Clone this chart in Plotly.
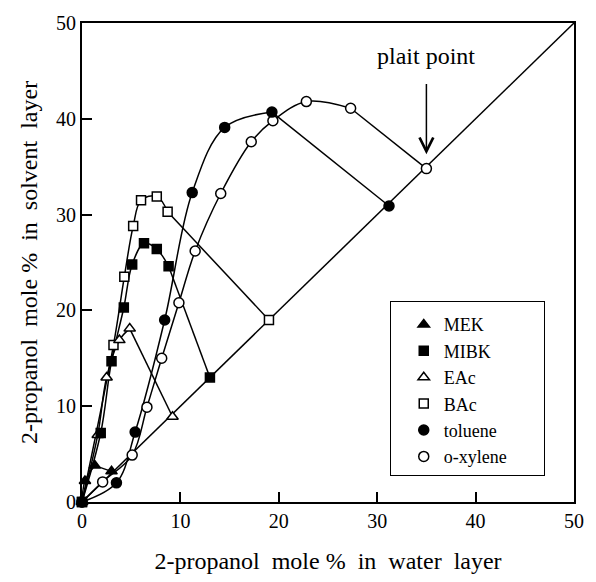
import plotly.graph_objects as go

# ---- data (2-propanol mole % : water layer x, solvent layer y) ----
mek_x = [0, 0.3, 1.3, 3.0]
mek_y = [0, 2.2, 3.8, 3.2]

mibk_x = [0, 1.9, 3.0, 4.25, 5.1, 6.3, 7.6, 8.8, 13.0]
mibk_y = [0, 7.2, 14.7, 20.3, 24.8, 27.0, 26.4, 24.6, 13.0]

eac_x = [0, 1.6, 2.5, 3.8, 4.85, 9.2]
eac_y = [0, 7.0, 13.0, 16.9, 18.1, 8.9]

bac_x = [0, 3.2, 4.3, 5.2, 6.0, 7.6, 8.7, 19.0]
bac_y = [0, 16.4, 23.5, 28.8, 31.5, 31.9, 30.3, 19.0]

tol_x = [0, 3.5, 5.4, 8.4, 11.2, 14.5, 19.3, 31.2]
tol_y = [0, 2.0, 7.3, 19.0, 32.3, 39.1, 40.7, 30.9]

oxy_x = [0, 2.1, 5.1, 6.6, 8.1, 9.85, 11.5, 14.1, 17.2, 19.4, 22.8, 27.3, 35.0]
oxy_y = [0, 2.1, 4.9, 9.9, 15.0, 20.8, 26.2, 32.2, 37.6, 39.8, 41.8, 41.1, 34.8]

diag = [0, 50]
ticks = [0, 10, 20, 30, 40, 50]

# (name, x, y, symbol, fill, size, legend rank)
series = [
    ("MEK", mek_x, mek_y, "triangle-up", "black", 10, 1),
    ("MIBK", mibk_x, mibk_y, "square", "black", 9, 2),
    ("EAc", eac_x, eac_y, "triangle-up", "white", 10, 3),
    ("BAc", bac_x, bac_y, "square", "white", 9, 4),
    ("toluene", tol_x, tol_y, "circle", "black", 10, 5),
    ("o-xylene", oxy_x, oxy_y, "circle", "white", 10, 6),
]
# marker drawing order (filled marks on top at the common origin)
draw_order = ["o-xylene", "BAc", "EAc", "MEK", "MIBK", "toluene"]

FONT = "Liberation Serif, Times New Roman, serif"
PAD = "\u00a0" * 7
fig = go.Figure()

# diagonal
fig.add_trace(go.Scatter(x=diag, y=diag, mode="lines",
                         line=dict(color="black", width=1.5),
                         showlegend=False, hoverinfo="skip"))

# curves (smooth) + straight tie segment to the diagonal
for name, xs, ys, sym, fill, size, rank in series:
    fig.add_trace(go.Scatter(x=xs[:-1], y=ys[:-1], mode="lines",
                             line=dict(color="black", width=1.5, shape="spline", smoothing=1.0),
                             showlegend=False, hoverinfo="skip"))
    fig.add_trace(go.Scatter(x=xs[-2:], y=ys[-2:], mode="lines",
                             line=dict(color="black", width=1.5),
                             showlegend=False, hoverinfo="skip"))

# markers
lookup = {s[0]: s for s in series}
for key in draw_order:
    name, xs, ys, sym, fill, size, rank = lookup[key]
    fig.add_trace(go.Scatter(x=xs, y=ys, mode="markers", name=name + PAD,
                             legendrank=rank, cliponaxis=False,
                             marker=dict(symbol=sym, size=size, color=fill,
                                         line=dict(color="black", width=1.5))))

axis_common = dict(range=[0, 50], tickvals=ticks, showgrid=False, zeroline=False,
                   showline=True, mirror=True, linecolor="black", linewidth=2,
                   ticks="inside", ticklen=10, tickwidth=1.5, tickcolor="black",
                   tickfont=dict(family=FONT, size=20, color="black"))

fig.update_layout(
    width=596, height=582,
    margin=dict(l=82, r=20, t=23, b=77),
    paper_bgcolor="white", plot_bgcolor="white",
    font=dict(family=FONT, color="black"),
    xaxis=dict(**axis_common,
               title=dict(text="2-propanol\u00a0\u00a0mole %\u00a0\u00a0in\u00a0\u00a0water\u00a0\u00a0layer",
                          font=dict(family=FONT, size=24, color="black"), standoff=21)),
    yaxis=dict(**axis_common,
               title=dict(text="2-propanol\u00a0\u00a0mole %\u00a0\u00a0in\u00a0\u00a0solvent\u00a0\u00a0layer",
                          font=dict(family=FONT, size=24, color="black"), standoff=12)),
    legend=dict(x=0.6255, y=0.419, xanchor="left", yanchor="top",
                bgcolor="white", bordercolor="black", borderwidth=1,
                font=dict(family=FONT, size=18, color="black"),
                title=dict(text="\u00a0", font=dict(size=3)),
                indentation=13, traceorder="normal"),
    showlegend=True,
)

# plait point label and arrow
fig.add_annotation(x=35.0, y=46.6, xref="x", yref="y", text="plait point",
                   showarrow=False, font=dict(family=FONT, size=24, color="black"))
fig.add_annotation(x=35.0, y=36.3, ax=35.0, ay=43.8, xref="x", yref="y",
                   axref="x", ayref="y", text="", showarrow=True,
                   arrowhead=5, arrowsize=1.8, arrowwidth=1.5, arrowcolor="black")

fig.write_html("out.html")
